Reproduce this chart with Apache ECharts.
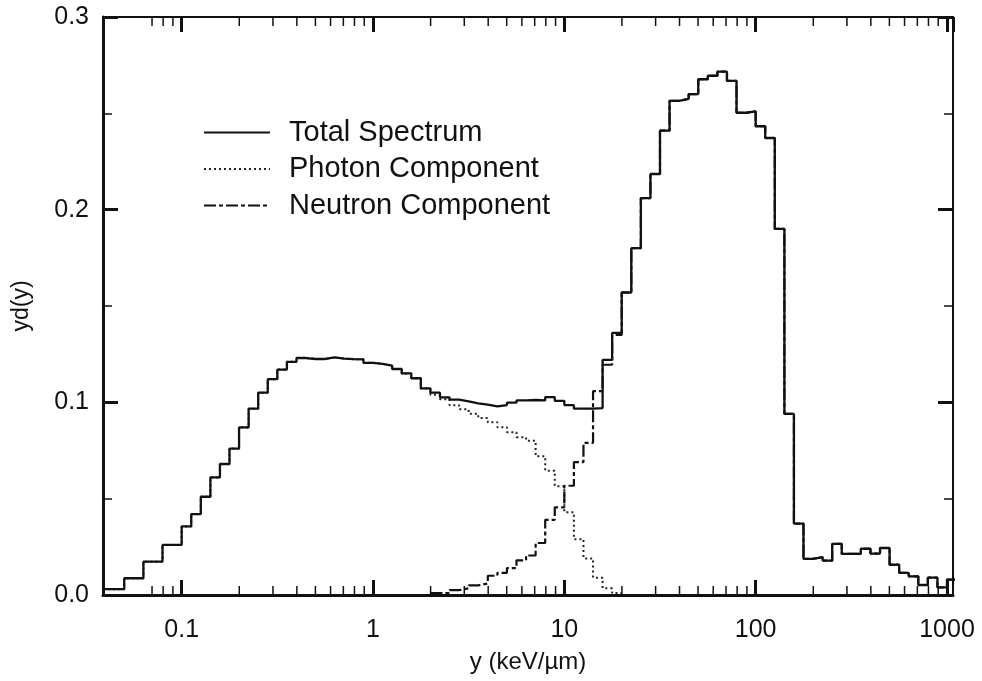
<!DOCTYPE html>
<html><head><meta charset="utf-8">
<script src="https://cdn.jsdelivr.net/npm/echarts@6/dist/echarts.min.js"></script>
<style>html,body{margin:0;padding:0;background:#fff}#c{width:982px;height:681px}</style>
</head><body><div id="c"></div>
<script>
// lower bin edges (20 bins per decade), last entry closes the final bin
const binEdges = [
  0.0388, 0.0447, 0.0501, 0.0562, 0.0631, 0.0708, 0.0794, 0.0891,
  0.1, 0.1122, 0.1259, 0.1413, 0.1585, 0.1778, 0.1995, 0.2239, 0.2512, 0.2818,
  0.3162, 0.3548, 0.3981, 0.4467, 0.5012, 0.5623, 0.6310, 0.7079, 0.7943, 0.8913,
  1, 1.122, 1.259, 1.413, 1.585, 1.778, 1.995, 2.239, 2.512, 2.818,
  3.162, 3.548, 3.981, 4.467, 5.012, 5.623, 6.310, 7.079, 7.943, 8.913,
  10, 11.22, 12.59, 14.13, 15.85, 17.78, 19.95, 22.39, 25.12, 28.18,
  31.62, 35.48, 39.81, 44.67, 50.12, 56.23, 63.10, 70.79, 79.43, 89.13,
  100, 112.2, 125.9, 141.3, 158.5, 177.8, 199.5, 223.9, 251.2, 281.8,
  316.2, 354.8, 398.1, 446.7, 501.2, 562.3, 631.0, 707.9, 794.3, 891.3,
  1000, 1122
];
const totalSpectrum = [
  0.003, 0.003, 0.0087, 0.0087, 0.0173, 0.0173, 0.026, 0.026,
  0.0356, 0.042, 0.051, 0.061, 0.068, 0.076, 0.087, 0.0967, 0.105, 0.112,
  0.117, 0.121, 0.123, 0.1225, 0.1225, 0.1233, 0.1227, 0.1224, 0.1223, 0.1205,
  0.120, 0.119, 0.1173, 0.115, 0.1125, 0.1072, 0.105, 0.1026, 0.1014, 0.1005,
  0.0995, 0.0988, 0.0979, 0.0986, 0.0998, 0.101, 0.1012, 0.101, 0.1027, 0.1008,
  0.0986, 0.0967, 0.0967, 0.097, 0.122, 0.136, 0.157, 0.180, 0.206, 0.2185,
  0.241, 0.2565, 0.2575, 0.260, 0.2677, 0.2695, 0.2716, 0.2668, 0.2503, 0.251,
  0.2433, 0.2372, 0.190, 0.094, 0.037, 0.0188, 0.0196, 0.0178, 0.0265, 0.0213,
  0.0213, 0.024, 0.0215, 0.0244, 0.0157, 0.0115, 0.0097, 0.0052, 0.009, 0.004,
  0.008
];
const photonComponent = [
  0.003, 0.003, 0.0087, 0.0087, 0.0173, 0.0173, 0.026, 0.026,
  0.0356, 0.042, 0.051, 0.061, 0.068, 0.076, 0.087, 0.0967, 0.105, 0.112,
  0.117, 0.121, 0.123, 0.1225, 0.1225, 0.1233, 0.1227, 0.1224, 0.1223, 0.1205,
  0.120, 0.119, 0.1173, 0.115, 0.1125, 0.1072, 0.104, 0.1016, 0.0985, 0.0964,
  0.0941, 0.0919, 0.0897, 0.0871, 0.0845, 0.0819, 0.0801, 0.072, 0.0645, 0.0565,
  0.043, 0.029, 0.019, 0.009, 0.0035, 0.001
];
const neutronComponent = [
  null, null, null, null, null, null, null, null,
  null, null, null, null, null, null, null, null, null, null,
  null, null, null, null, null, null, null, null, null, null,
  null, null, null, null, null, null, 0.001, 0.001, 0.0025, 0.0035,
  0.005, 0.006, 0.010, 0.0115, 0.014, 0.018, 0.0205, 0.027, 0.039, 0.0455,
  0.0567, 0.069, 0.079, 0.1058, 0.1195, 0.135, 0.157, 0.180, 0.206, 0.2185,
  0.241, 0.2565, 0.2575, 0.260, 0.2677, 0.2695, 0.2716, 0.2668, 0.2503, 0.251,
  0.2433, 0.2372, 0.190, 0.094, 0.037, 0.0188, 0.0196, 0.0178, 0.0265, 0.0213,
  0.0213, 0.024, 0.0215, 0.0244, 0.0157, 0.0115, 0.0097, 0.0052, 0.009, 0.004,
  0.008
];
const seriesNames = ['Total Spectrum', 'Photon Component', 'Neutron Component'];
const xTickValues = [0.1, 1, 10, 100, 1000];
const xTickLabels = ['0.1', '1', '10', '100', '1000'];
const xMinorTicks = [0.07, 0.08, 0.09,
  0.2, 0.3, 0.4, 0.5, 0.6, 0.7, 0.8, 0.9,
  2, 3, 4, 5, 6, 7, 8, 9,
  20, 30, 40, 50, 60, 70, 80, 90,
  200, 300, 400, 500, 600, 700, 800, 900];
const yTickLabels = ['0.0', '0.1', '0.2', '0.3'];

const X_MIN = 0.0388, X_MAX = 1075;
const INK = '#111';
const FONT = '"Liberation Sans", Arial, sans-serif';

function stepPoints(values) {
  const pts = [];
  let last = null;
  for (let i = 0; i < values.length; i++) {
    const v = values[i];
    if (v === null || v === undefined) continue;
    pts.push([binEdges[i], v]);
    last = i;
  }
  if (last !== null) pts.push([binEdges[last + 1], values[last]]);
  return pts;
}

function xLabel(v) {
  for (let i = 0; i < xTickValues.length; i++) {
    if (Math.abs(v - xTickValues[i]) < 1e-6 * xTickValues[i]) return xTickLabels[i];
  }
  return '';
}

const chart = echarts.init(document.getElementById('c'), null, {renderer: 'canvas'});

const baseX = {
  type: 'log', logBase: 10, min: X_MIN, max: X_MAX,
  splitLine: {show: false},
  axisTick: {show: true, inside: true, length: 15, lineStyle: {color: INK, width: 3}},
  minorTick: {show: false}
};
const baseY = {
  type: 'value', min: 0, max: 0.3, interval: 0.1,
  splitLine: {show: false},
  axisTick: {show: true, inside: true, length: 15, lineStyle: {color: INK, width: 3}},
  minorTick: {show: true, splitNumber: 2, length: 9, lineStyle: {color: INK, width: 1.5}}
};

const option = {
  animation: false,
  backgroundColor: '#fff',
  grid: {left: 103, right: 29, top: 17, bottom: 86, containLabel: false},
  legend: {
    orient: 'vertical', left: 198, top: 113,
    itemWidth: 66, itemHeight: 14, itemGap: 7.5,
    data: seriesNames,
    itemStyle: {color: 'transparent', borderWidth: 0, opacity: 0},
    textStyle: {fontFamily: FONT, fontSize: 29, color: INK, padding: [0, 0, 0, 14]},
    selectedMode: false
  },
  xAxis: [
    Object.assign({}, baseX, {
      position: 'bottom',
      axisLine: {show: true, onZero: false, lineStyle: {color: INK, width: 3}},
      axisLabel: {show: true, formatter: xLabel, margin: 23, fontFamily: FONT, fontSize: 25, color: INK,
        showMinLabel: false, showMaxLabel: false},
      name: 'y (keV/µm)', nameLocation: 'middle', nameGap: 55,
      nameTextStyle: {fontFamily: FONT, fontSize: 24, color: INK}
    }),
    Object.assign({}, baseX, {
      position: 'top',
      axisLine: {show: true, onZero: false, lineStyle: {color: INK, width: 2}},
      axisLabel: {show: false}
    })
  ],
  yAxis: [
    Object.assign({}, baseY, {
      position: 'left',
      axisLine: {show: true, onZero: false, lineStyle: {color: INK, width: 3}},
      axisLabel: {show: true, margin: 14, fontFamily: FONT, fontSize: 25, color: INK,
        formatter: function (v) { return yTickLabels[Math.round(v * 10)]; }},
      name: 'yd(y)', nameLocation: 'middle', nameRotate: 90, nameGap: 70,
      nameTextStyle: {fontFamily: FONT, fontSize: 23, color: INK}
    }),
    Object.assign({}, baseY, {
      position: 'right',
      axisLine: {show: true, onZero: false, lineStyle: {color: INK, width: 2}},
      axisLabel: {show: false}
    })
  ],
  series: [
    {
      name: seriesNames[1], type: 'line', step: 'end', symbol: 'none',
      xAxisIndex: 0, yAxisIndex: 0, z: 2,
      lineStyle: {color: '#222', width: 2, type: [2, 3]},
      itemStyle: {color: '#222'},
      data: stepPoints(photonComponent)
    },
    {
      name: seriesNames[2], type: 'line', step: 'end', symbol: 'none',
      xAxisIndex: 0, yAxisIndex: 0, z: 3,
      lineStyle: {color: INK, width: 2.2, type: [12, 3, 4, 3]},
      itemStyle: {color: INK},
      data: stepPoints(neutronComponent)
    },
    {
      name: seriesNames[0], type: 'line', step: 'end', symbol: 'none',
      xAxisIndex: 0, yAxisIndex: 0, z: 4,
      lineStyle: {color: INK, width: 2.3, type: 'solid'},
      itemStyle: {color: INK},
      data: stepPoints(totalSpectrum)
    },
    {
      name: 'minorTicks', type: 'custom', xAxisIndex: 0, yAxisIndex: 0,
      silent: true, z: 5, clip: false,
      data: xMinorTicks.map(function (v) { return [v, 0]; }),
      renderItem: function (params, api) {
        const v = api.value(0);
        const b = api.coord([v, 0]);
        const t = api.coord([v, 0.3]);
        return {
          type: 'group',
          children: [
            {type: 'line', shape: {x1: b[0], y1: b[1], x2: b[0], y2: b[1] - 9},
              style: {stroke: INK, lineWidth: 1.5}},
            {type: 'line', shape: {x1: t[0], y1: t[1], x2: t[0], y2: t[1] + 9},
              style: {stroke: INK, lineWidth: 1.5}}
          ]
        };
      }
    }
  ]
};
chart.setOption(option);
</script>
</body></html>
